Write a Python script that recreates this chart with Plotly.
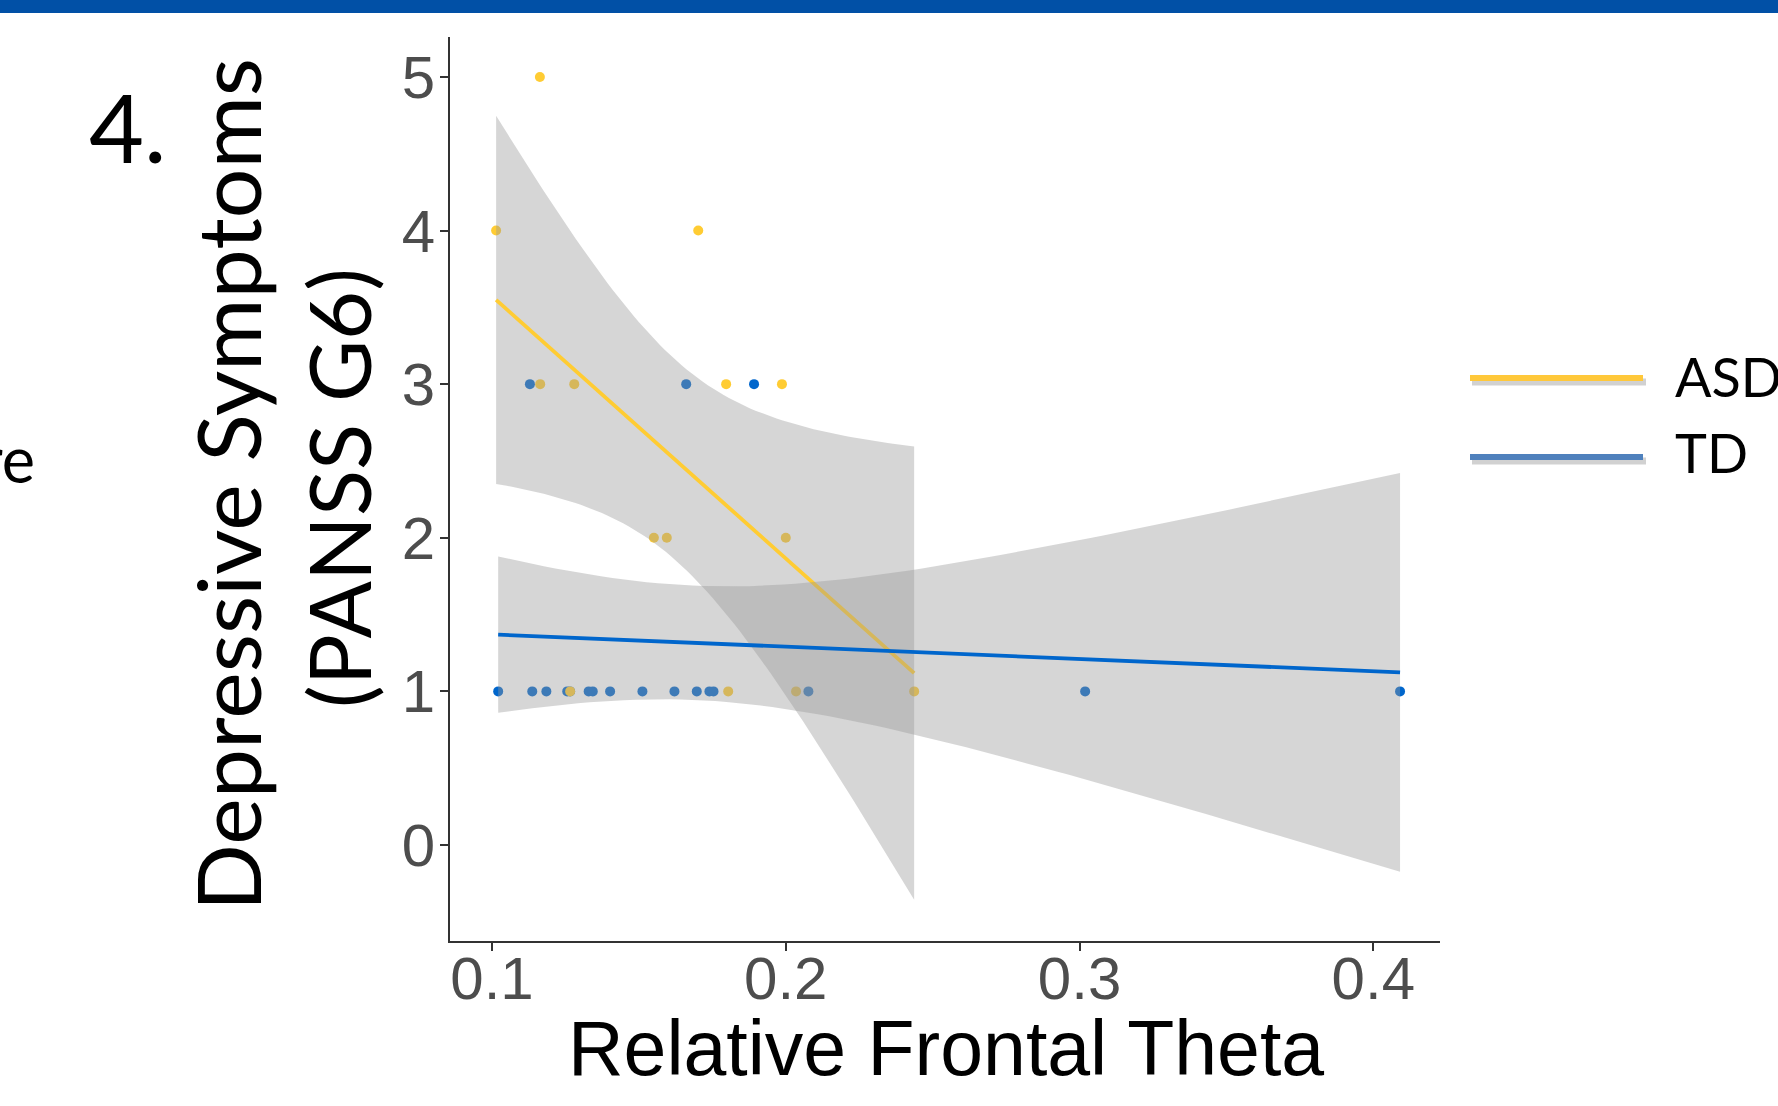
import numpy as np
import plotly.graph_objects as go
from math import lgamma, exp, sqrt, pi

# ---------------- data ----------------
groups = ["ASD", "TD"]

asd_x = [0.1014, 0.1163, 0.1702, 0.1164, 0.1280, 0.1797, 0.1987, 0.1551, 0.1595,
         0.2000, 0.1266, 0.1804, 0.2035, 0.2437]
asd_y = [4, 5, 4, 3, 3, 3, 3, 2, 2, 2, 1, 1, 1, 1]

td_x = [0.1129, 0.1661, 0.1892, 0.1021, 0.1137, 0.1185, 0.1256, 0.1266, 0.1329,
        0.1343, 0.1402, 0.1512, 0.1621, 0.1697, 0.1740, 0.1754, 0.2077, 0.3019, 0.4091]
td_y = [3, 3, 3, 1, 1, 1, 1, 1, 1, 1, 1, 1, 1, 1, 1, 1, 1, 1, 1]

x_ticks = [0.1, 0.2, 0.3, 0.4]
x_ticktext = ["0.1", "0.2", "0.3", "0.4"]
y_ticks = [0, 1, 2, 3, 4, 5]
y_ticktext = ["0", "1", "2", "3", "4", "5"]

x_title = "Relative Frontal Theta"
y_title_1 = "Depressive Symptoms"
y_title_2 = "(PANSS G6)"
panel_label = "4."
cut_text = "re"

# ---------------- styles ----------------
ASD_COL = "#FFCC33"
TD_COL = "#0066CC"
LEG_ASD = "#FFC83A"
LEG_TD = "#4F81BD"
RIBBON = "rgba(153,153,153,0.4)"
AXIS_COL = "#333333"
TICK_FONT = "Liberation Sans, Arial, sans-serif"
TEXT_FONT = "Lato, Carlito, Calibri, sans-serif"


def t_ppf(p, df):
    c = exp(lgamma((df + 1) / 2) - lgamma(df / 2)) / sqrt(df * pi)
    xs = np.linspace(0, 12, 240001)
    pdf = c * (1 + xs ** 2 / df) ** (-(df + 1) / 2)
    cdf = 0.5 + np.concatenate([[0], np.cumsum((pdf[1:] + pdf[:-1]) / 2 * np.diff(xs))])
    return float(np.interp(p, cdf, xs))


def lm_smooth(x, y, n=80, level=0.95):
    x = np.asarray(x, float)
    y = np.asarray(y, float)
    N = len(x)
    mx, my = x.mean(), y.mean()
    sxx = ((x - mx) ** 2).sum()
    b = ((x - mx) * (y - my)).sum() / sxx
    a = my - b * mx
    res = y - (a + b * x)
    s = sqrt((res ** 2).sum() / (N - 2))
    xs = np.linspace(x.min(), x.max(), n)
    fit = a + b * xs
    se = s * np.sqrt(1 / N + (xs - mx) ** 2 / sxx)
    t = t_ppf(0.5 + level / 2, N - 2)
    return xs, fit, fit - t * se, fit + t * se


fig = go.Figure()

# points first (ggplot: geom_point below geom_smooth)
fig.add_trace(go.Scatter(x=td_x, y=td_y, mode="markers",
                         marker=dict(color=TD_COL, size=10, line=dict(width=0)),
                         hoverinfo="skip"))
fig.add_trace(go.Scatter(x=asd_x, y=asd_y, mode="markers",
                         marker=dict(color=ASD_COL, size=10, line=dict(width=0)),
                         hoverinfo="skip"))

for gx, gy, col in [(asd_x, asd_y, ASD_COL), (td_x, td_y, TD_COL)]:
    xs, fit, lo, hi = lm_smooth(gx, gy)
    fig.add_trace(go.Scatter(x=np.concatenate([xs, xs[::-1]]),
                             y=np.concatenate([hi, lo[::-1]]),
                             mode="lines", fill="toself", fillcolor=RIBBON,
                             line=dict(width=0), hoverinfo="skip"))
    fig.add_trace(go.Scatter(x=xs, y=fit, mode="lines",
                             line=dict(color=col, width=3.8), hoverinfo="skip"))

# ---------------- layout ----------------
FW, FH = 1778, 1106
L, T, R, B = 450, 37, 1440, 941
W, H = R - L, B - T


def px(x):
    return (x - L) / W


def py(y):
    return 1 - (y - T) / H


axis_common = dict(showline=True, linecolor=AXIS_COL, linewidth=2, ticks="outside",
                   ticklen=8, tickwidth=2, tickcolor=AXIS_COL, showgrid=False,
                   zeroline=False,
                   tickfont=dict(family=TICK_FONT, size=60, color="#4D4D4D"))

fig.update_layout(
    width=FW, height=FH,
    margin=dict(l=L, r=FW - R, t=T, b=FH - B, pad=0),
    plot_bgcolor="white", paper_bgcolor="white",
    showlegend=False,
    xaxis=dict(range=[0.0857, 0.4227], tickvals=x_ticks, ticktext=x_ticktext,
               ticklabelstandoff=-24, **axis_common),
    yaxis=dict(range=[-0.625, 5.26], tickvals=y_ticks, ticktext=y_ticktext,
               ticklabelstandoff=-7, **axis_common),
)

shapes = [
    # top blue banner
    dict(type="rect", xref="paper", yref="paper", x0=px(0), x1=px(FW), y0=py(0), y1=py(13),
         fillcolor="#0150A6", line=dict(width=0), layer="above"),
]
# legend lines with soft shadow
for name, yl, col in [(groups[0], 378, LEG_ASD), (groups[1], 457, LEG_TD)]:
    shapes.append(dict(type="line", xref="paper", yref="paper", x0=px(1472), x1=px(1646),
                       y0=py(yl + 4), y1=py(yl + 4), line=dict(color="rgba(0,0,0,0.18)", width=7)))
    shapes.append(dict(type="line", xref="paper", yref="paper", x0=px(1470), x1=px(1643),
                       y0=py(yl), y1=py(yl), line=dict(color=col, width=6)))

annotations = [
    dict(text=panel_label, x=px(87), y=py(126), xanchor="left", yanchor="middle",
         font=dict(family=TEXT_FONT, size=95, color="black")),
    dict(text=y_title_1, x=px(227), y=py(485), xanchor="center", yanchor="middle",
         textangle=-90, font=dict(family=TEXT_FONT, size=88, color="black")),
    dict(text=y_title_2, x=px(338), y=py(488), xanchor="center", yanchor="middle",
         textangle=-90, font=dict(family=TEXT_FONT, size=85, color="black")),
    dict(text=cut_text, x=px(37), y=py(458), xanchor="right", yanchor="middle",
         font=dict(family=TEXT_FONT, size=63, color="black")),
    dict(text=x_title, x=px(946), y=py(1048), xanchor="center", yanchor="middle",
         font=dict(family=TICK_FONT, size=77, color="black")),
    dict(text=groups[0], x=px(1673), y=py(376), xanchor="left", yanchor="middle",
         font=dict(family=TEXT_FONT, size=54, color="black")),
    dict(text=groups[1], x=px(1673), y=py(452), xanchor="left", yanchor="middle",
         font=dict(family=TEXT_FONT, size=54, color="black")),
]
for a in annotations:
    a.update(xref="paper", yref="paper", showarrow=False)

fig.update_layout(shapes=shapes, annotations=annotations)

fig.write_html("out.html", config={"displayModeBar": False},
               post_script="document.body.style.margin='0';document.body.style.overflow='hidden';")
